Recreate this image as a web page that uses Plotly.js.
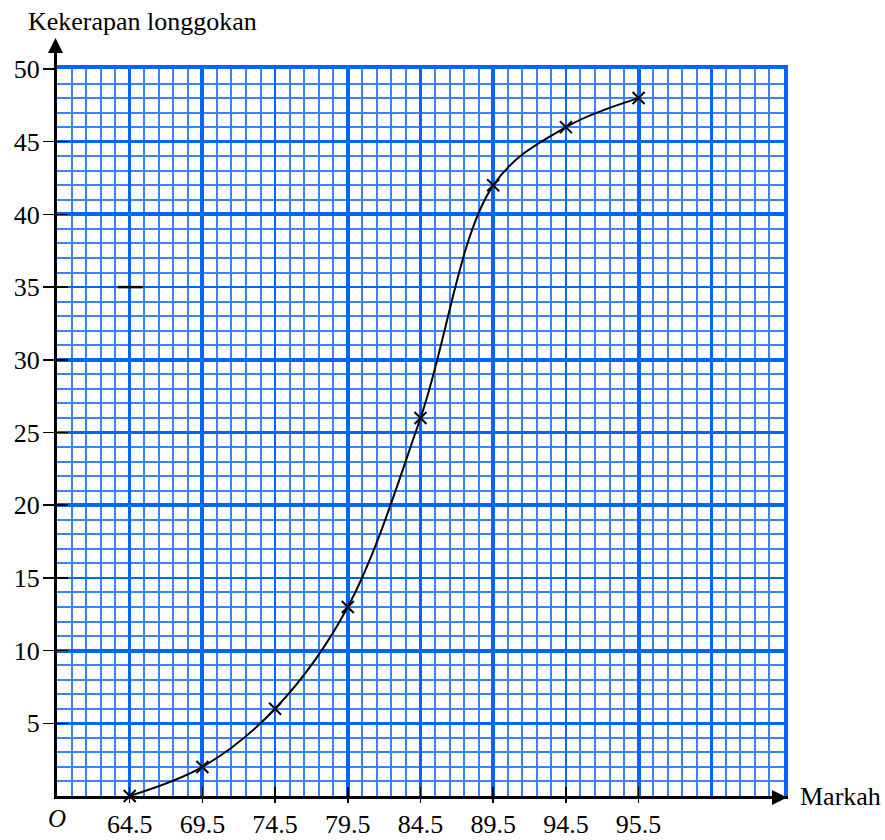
<!DOCTYPE html>
<html>
<head>
<meta charset="utf-8">
<script src="https://cdn.plot.ly/plotly-3.0.1.min.js"></script>
<style>html,body{margin:0;padding:0;background:#fff;}#chart{width:885px;height:840px;}</style>
</head>
<body>
<div id="chart"></div>
<script>
// ---- data ----
const markah = [64.5, 69.5, 74.5, 79.5, 84.5, 89.5, 94.5, 99.5];
const kekerapanLonggokan = [0, 2, 6, 13, 26, 42, 46, 48];
const xTickVals = [64.5, 69.5, 74.5, 79.5, 84.5, 89.5, 94.5, 99.5];
const xTickText = ['64.5', '69.5', '74.5', '79.5', '84.5', '89.5', '94.5', '95.5'];
const yTickVals = [5, 10, 15, 20, 25, 30, 35, 40, 45, 50];
const strayX = [63.7, 65.4];
const strayY = [35, 35];
const xRange = [59.5, 109.5];
const yRange = [0, 50];

const FONT = '"Liberation Serif", "Times New Roman", serif';
const BLUE = '#0066ff';
const BLUE_THIN = '#3b82ff';

// invisible helper traces so that each overlay (grid / border / tick) axis pair is drawn
function helper(n) {
  return {x: markah, y: kekerapanLonggokan, xaxis: 'x' + n, yaxis: 'y' + n,
          type: 'scatter', mode: 'none', hoverinfo: 'skip', showlegend: false};
}

const traces = [
  helper(2), helper(3), helper(4), helper(5), helper(6),
  {
    x: strayX, y: strayY, type: 'scatter', mode: 'lines',
    line: {color: 'black', width: 2.5}, hoverinfo: 'skip'
  },
  {
    x: markah, y: kekerapanLonggokan, type: 'scatter', mode: 'lines+markers',
    line: {color: 'black', width: 2, shape: 'spline', smoothing: 1},
    marker: {symbol: 'x-thin-open', size: 12, color: 'black', line: {color: 'black', width: 2}},
    cliponaxis: false
  }
];

const hidden = {showticklabels: false, zeroline: false, fixedrange: true};

const layout = {
  width: 885, height: 840,
  margin: {l: 57, r: 101, t: 69, b: 44, pad: 0},
  paper_bgcolor: 'white', plot_bgcolor: 'white',
  showlegend: false,
  font: {family: FONT, size: 26, color: 'black'},
  title: {
    text: 'Kekerapan longgokan',
    font: {family: FONT, size: 26, color: 'black'},
    xref: 'container', x: 28 / 885, xanchor: 'left',
    yref: 'container', y: 1 - 21 / 840, yanchor: 'middle'
  },
  // labelled axes (black axis lines)
  xaxis: {
    range: xRange, tickmode: 'array', tickvals: xTickVals, ticktext: xTickText,
    ticks: 'outside', ticklen: 3, tickwidth: 1.5, tickcolor: 'black',
    showline: true, linecolor: 'black', linewidth: 3,
    showgrid: false, zeroline: false, fixedrange: true,
    tickfont: {family: FONT, size: 26, color: 'black'},
    ticklabelstandoff: 0
  },
  yaxis: {
    range: yRange, tickmode: 'array', tickvals: yTickVals,
    ticks: 'outside', ticklen: 9, tickwidth: 1.5, tickcolor: 'black',
    showline: true, linecolor: 'black', linewidth: 3,
    showgrid: false, zeroline: false, fixedrange: true,
    tickfont: {family: FONT, size: 26, color: 'black'}
  },
  // thin grid every 1 + border lines (top / right)
  xaxis2: Object.assign({overlaying: 'x', anchor: 'y2', side: 'top', range: xRange,
    tickmode: 'linear', tick0: 59.5, dtick: 1, ticks: '',
    showgrid: true, gridcolor: BLUE_THIN, gridwidth: 2,
    showline: true, linecolor: BLUE, linewidth: 4}, hidden),
  yaxis2: Object.assign({overlaying: 'y', anchor: 'x2', side: 'right', range: yRange,
    tickmode: 'linear', tick0: 0, dtick: 1, ticks: '',
    showgrid: true, gridcolor: BLUE_THIN, gridwidth: 2,
    showline: true, linecolor: BLUE, linewidth: 4}, hidden),
  // thick grid every 10
  xaxis3: Object.assign({overlaying: 'x', anchor: 'y3', range: xRange,
    tickmode: 'linear', tick0: 59.5, dtick: 10, ticks: '', showline: false,
    showgrid: true, gridcolor: BLUE, gridwidth: 4}, hidden),
  yaxis3: Object.assign({overlaying: 'y', anchor: 'x3', range: yRange,
    tickmode: 'linear', tick0: 0, dtick: 10, ticks: '', showline: false,
    showgrid: true, gridcolor: BLUE, gridwidth: 4}, hidden),
  // medium grid on the fives
  xaxis4: Object.assign({overlaying: 'x', anchor: 'y4', range: xRange,
    tickmode: 'linear', tick0: 64.5, dtick: 10, ticks: '', showline: false,
    showgrid: true, gridcolor: BLUE, gridwidth: 2.5}, hidden),
  yaxis4: Object.assign({overlaying: 'y', anchor: 'x4', range: yRange,
    tickmode: 'linear', tick0: 5, dtick: 10, ticks: '', showline: false,
    showgrid: true, gridcolor: BLUE, gridwidth: 2.5}, hidden),
  // inner part of the tick marks
  xaxis5: Object.assign({overlaying: 'x', anchor: 'y5', range: xRange,
    tickmode: 'array', tickvals: xTickVals, ticks: 'inside', ticklen: 9, tickwidth: 1.5, tickcolor: 'black',
    showline: false, showgrid: false}, hidden),
  yaxis5: Object.assign({overlaying: 'y', anchor: 'x5', range: yRange,
    tickmode: 'array', tickvals: yTickVals, ticks: 'inside', ticklen: 11, tickwidth: 1.5, tickcolor: 'black',
    showline: false, showgrid: false}, hidden),
  // outer part of the tick marks (longer than the label-positioning ticks)
  xaxis6: Object.assign({overlaying: 'x', anchor: 'y6', range: xRange,
    tickmode: 'array', tickvals: xTickVals, ticks: 'outside', ticklen: 6, tickwidth: 1.5, tickcolor: 'black',
    showline: false, showgrid: false}, hidden),
  yaxis6: Object.assign({overlaying: 'y', anchor: 'x6', range: yRange,
    tickmode: 'array', tickvals: yTickVals, ticks: 'outside', ticklen: 13, tickwidth: 1.5, tickcolor: 'black',
    showline: false, showgrid: false}, hidden),
  annotations: [
    // y-axis arrow
    {xref: 'paper', yref: 'paper', x: 0 - 1.5 / 727, y: 1 + 31 / 727, ax: 0, ay: 45, axref: 'pixel', ayref: 'pixel',
     text: '', showarrow: true, arrowhead: 2, arrowsize: 1, arrowwidth: 3, arrowcolor: 'black'},
    // x-axis arrow
    {xref: 'paper', yref: 'paper', x: 1 + 3 / 727, y: 0 - 1.5 / 727, ax: -45, ay: 0, axref: 'pixel', ayref: 'pixel',
     text: '', showarrow: true, arrowhead: 2, arrowsize: 1, arrowwidth: 3, arrowcolor: 'black'},
    {xref: 'paper', yref: 'paper', x: 1, y: 0, xshift: 14, yshift: 0, xanchor: 'left', yanchor: 'middle',
     text: 'Markah', showarrow: false, font: {family: FONT, size: 26, color: 'black'}},
    {xref: 'paper', yref: 'paper', x: 0, y: 0, xshift: 0, yshift: -22, xanchor: 'center', yanchor: 'middle',
     text: '<i>O</i>', showarrow: false, font: {family: FONT, size: 25, color: 'black'}}
  ]
};

Plotly.newPlot('chart', traces, layout, {staticPlot: true, displayModeBar: false});
</script>
</body>
</html>
